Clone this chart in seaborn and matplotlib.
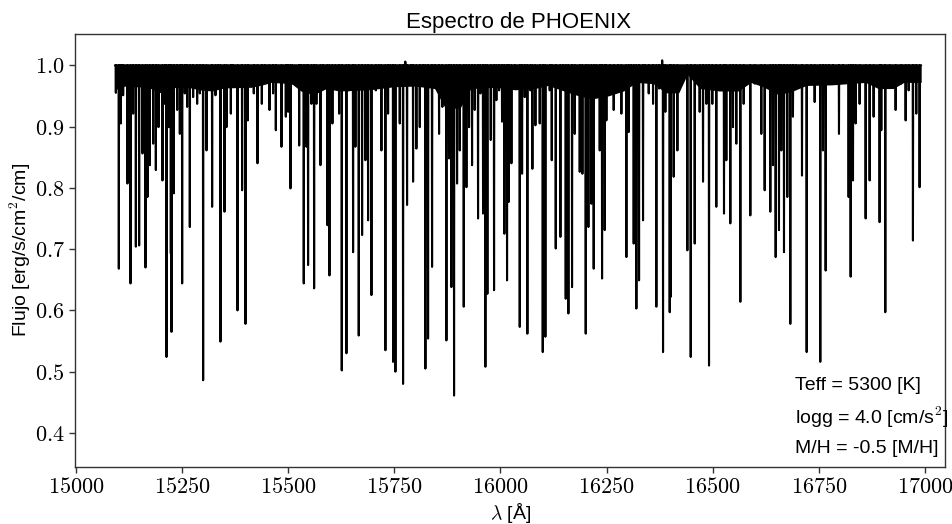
import numpy as np
import pandas as pd
import matplotlib
matplotlib.use("Agg")
import matplotlib.pyplot as plt
from matplotlib.ticker import FuncFormatter
import seaborn as sns

# ---------------- data ----------------
wl_start = 15092.0
wl_end = 16991.0

line_wl = [
    15094.2, 15101.2, 15106.0, 15111.4, 15121.6, 15128.7, 15135.0, 15141.3, 15149.1, 15157.0,
    15164.0, 15168.7, 15174.2, 15182.1, 15188.4, 15194.6, 15204.0, 15209.6, 15213.5, 15219.0,
    15223.7, 15225.3, 15230.7, 15238.6, 15244.9, 15250.4, 15256.6, 15262.1, 15268.4, 15276.3,
    15285.7, 15292.0, 15299.8, 15307.7, 15321.0, 15328.9, 15335.1, 15340.6, 15350.1, 15354.8,
    15365.0, 15370.5, 15380.7, 15391.6, 15399.5, 15405.0, 15419.1, 15427.8, 15438.0, 15445.0,
    15456.0, 15464.6, 15471.0, 15484.3, 15494.5, 15500.0, 15505.5, 15510.2, 15526.0, 15530.6,
    15536.8, 15543.1, 15547.0, 15554.9, 15561.2, 15566.6, 15576.1, 15582.3, 15592.5, 15597.3,
    15604.3, 15611.4, 15620.0, 15626.3, 15637.3, 15642.8, 15653.0, 15658.5, 15666.3, 15674.2,
    15682.0, 15688.3, 15696.2, 15706.4, 15713.4, 15719.7, 15729.1, 15735.4, 15740.9, 15747.2,
    15752.7, 15762.9, 15770.7, 15776.0, 15780.1, 15788.8, 15794.3, 15802.1, 15810.0, 15817.8,
    15823.3, 15829.6, 15839.0, 15846.1, 15855.5, 15863.3, 15872.8, 15879.0, 15884.5, 15890.8,
    15897.9, 15904.2, 15913.6, 15919.9, 15926.1, 15933.2, 15939.5, 15947.3, 15952.8, 15959.1,
    15964.6, 15969.3, 15977.2, 15985.0, 15990.5, 15996.8, 16003.8, 16009.3, 16015.6, 16019.6,
    16025.9, 16033.7, 16045.5, 16051.0, 16057.3, 16063.5, 16070.6, 16075.3, 16082.4, 16092.6,
    16099.7, 16105.9, 16116.1, 16120.9, 16130.3, 16141.3, 16147.5, 16153.8, 16160.1, 16168.7,
    16175.0, 16186.8, 16193.1, 16200.9, 16207.2, 16214.2, 16219.7, 16226.0, 16233.9, 16239.4,
    16245.6, 16249.6, 16257.4, 16266.8, 16277.0, 16284.9, 16296.7, 16302.2, 16308.4, 16313.9,
    16320.2, 16326.5, 16335.9, 16341.4, 16349.3, 16359.5, 16367.3, 16373.6, 16381.0, 16383.0,
    16388.5, 16398.7, 16401.1, 16408.1, 16416.8, 16440.3, 16448.2, 16457.6, 16469.3, 16477.2,
    16485.0, 16491.3, 16499.1, 16508.5, 16518.0, 16526.6, 16532.1, 16541.5, 16547.8, 16555.6,
    16565.1, 16572.9, 16588.6, 16598.8, 16614.5, 16622.4, 16635.7, 16642.0, 16648.3, 16656.1,
    16661.6, 16667.9, 16675.7, 16682.8, 16689.0, 16696.9, 16710.3, 16721.3, 16732.2, 16740.1,
    16753.4, 16759.7, 16766.0, 16773.8, 16783.2, 16797.4, 16806.8, 16820.1, 16824.9, 16830.4,
    16836.6, 16846.0, 16860.2, 16869.6, 16879.0, 16893.1, 16897.1, 16906.5, 16916.7, 16930.8,
    16944.2, 16954.4, 16961.5, 16971.6, 16979.5, 16987.3,
]
line_flux = [
    0.955, 0.668, 0.905, 0.951, 0.807, 0.644, 0.921, 0.704, 0.706, 0.856,
    0.670, 0.785, 0.837, 0.872, 0.829, 0.899, 0.812, 0.937, 0.524, 0.899,
    0.693, 0.565, 0.791, 0.927, 0.888, 0.644, 0.954, 0.932, 0.736, 0.948,
    0.937, 0.954, 0.486, 0.861, 0.769, 0.951, 0.970, 0.549, 0.761, 0.899,
    0.921, 0.981, 0.600, 0.796, 0.578, 0.910, 0.954, 0.840, 0.937, 0.981,
    0.927, 0.954, 0.894, 0.867, 0.916, 0.924, 0.799, 0.970, 0.869, 0.965,
    0.644, 0.867, 0.674, 0.937, 0.636, 0.937, 0.837, 0.965, 0.739, 0.657,
    0.905, 0.965, 0.921, 0.502, 0.530, 0.959, 0.695, 0.867, 0.559, 0.723,
    0.845, 0.747, 0.625, 0.959, 0.970, 0.861, 0.535, 0.921, 0.970, 0.516,
    0.500, 0.905, 0.480, 1.006, 0.772, 0.981, 0.810, 0.864, 0.899, 0.970,
    0.505, 0.554, 0.671, 0.984, 0.888, 0.932, 0.551, 0.848, 0.638, 0.461,
    0.807, 0.861, 0.606, 0.801, 0.899, 0.837, 0.927, 0.750, 0.954, 0.758,
    0.508, 0.627, 0.878, 0.633, 0.943, 0.959, 0.908, 0.725, 0.649, 0.777,
    0.840, 0.970, 0.573, 0.823, 0.948, 0.562, 0.959, 0.831, 0.902, 0.905,
    0.532, 0.557, 0.959, 0.845, 0.701, 0.720, 0.976, 0.619, 0.595, 0.638,
    0.888, 0.826, 0.823, 0.562, 0.736, 0.774, 0.668, 0.981, 0.861, 0.652,
    0.731, 0.910, 0.959, 0.927, 0.970, 0.921, 0.687, 0.891, 0.970, 0.709,
    0.603, 0.649, 0.747, 0.981, 0.954, 0.937, 0.606, 0.962, 1.008, 0.532,
    0.924, 0.597, 0.622, 0.818, 0.861, 0.698, 0.524, 0.709, 0.924, 0.810,
    0.937, 0.510, 0.937, 0.769, 0.981, 0.758, 0.845, 0.742, 0.899, 0.872,
    0.614, 0.937, 0.755, 0.970, 0.888, 0.796, 0.761, 0.837, 0.687, 0.731,
    0.861, 0.695, 0.785, 0.578, 0.916, 0.970, 0.820, 0.532, 0.970, 0.940,
    0.516, 0.861, 0.665, 0.992, 0.970, 0.888, 0.986, 0.785, 0.655, 0.812,
    0.905, 0.937, 0.750, 0.812, 0.916, 0.744, 0.894, 0.597, 0.965, 0.927,
    0.970, 0.910, 0.959, 0.714, 0.921, 0.801,
]

# lower edge of the dense forest of weak lines just under the continuum
band_wl = [15092, 15115, 15170, 15200, 15235, 15272, 15290, 15320, 15350,
           15413, 15440, 15460, 15508, 15530, 15560, 15590, 15620, 15692,
           15750, 15800, 15845, 15870, 15905, 15930, 15990, 16034, 16081,
           16112, 16175, 16215, 16254, 16290, 16320, 16360, 16390, 16420,
           16440, 16470, 16516, 16560, 16590, 16618, 16655, 16689, 16720, 16780,
           16860, 16890, 16925, 16950, 16991]
band_lo = [0.960, 0.966, 0.964, 0.955, 0.964, 0.963, 0.960, 0.958, 0.963,
           0.964, 0.968, 0.972, 0.970, 0.958, 0.952, 0.962, 0.958, 0.960,
           0.965, 0.966, 0.962, 0.930, 0.930, 0.962, 0.964, 0.960, 0.962,
           0.967, 0.952, 0.945, 0.950, 0.958, 0.972, 0.970, 0.955, 0.955,
           0.985, 0.962, 0.958, 0.958, 0.972, 0.965, 0.952, 0.958, 0.967, 0.968,
           0.972, 0.962, 0.962, 0.972, 0.972]
continuum = 1.0

xticks = [15000, 15250, 15500, 15750, 16000, 16250, 16500, 16750, 17000]
yticks = [0.4, 0.5, 0.6, 0.7, 0.8, 0.9, 1.0]
info_lines = ["Teff = 5300 [K]", "logg = 4.0 [cm/s$^2$]", "M/H = -0.5 [M/H]"]
info_y = [0.478, 0.426, 0.374]
info_x = 16693

# ---------------- build the spectrum from the line list ----------------
hw = 0.6
xs, ys = [wl_start], [continuum]
for w, f in zip(line_wl, line_flux):
    xs += [w - hw, w, w + hw]
    ys += [continuum, f, continuum]
xs.append(wl_end)
ys.append(continuum)
spec = pd.DataFrame({"wl": xs, "flux": ys})

# ---------------- figure ----------------
sns.set_style("ticks")
plt.rcParams["font.family"] = ["Liberation Sans", "DejaVu Sans"]
plt.rcParams["mathtext.fontset"] = "cm"
plt.rcParams["text.color"] = "black"
plt.rcParams["axes.labelcolor"] = "black"
plt.rcParams["xtick.color"] = "black"
plt.rcParams["ytick.color"] = "black"

fig = plt.figure(figsize=(9.53, 5.24), dpi=100)
ax = fig.add_axes([0.0787, 0.1094, 0.9133, 0.8257])

ax.fill_between(band_wl, band_lo, continuum, color="black", lw=0)
sns.lineplot(data=spec, x="wl", y="flux", ax=ax, color="black", lw=1.5,
             sort=False, estimator=None)

ax.set_xlim(14998, 17048)
ax.set_ylim(0.345, 1.051)
ax.set_xticks(xticks)
ax.set_yticks(yticks)
ax.xaxis.set_major_formatter(FuncFormatter(lambda v, p: f"${v:.0f}$"))
ax.yaxis.set_major_formatter(FuncFormatter(lambda v, p: f"${v:.1f}$"))
ax.tick_params(axis="both", labelsize=16, direction="out", length=4, width=1,
               color="0.2", labelcolor="black")
for s in ax.spines.values():
    s.set_visible(True)
    s.set_color("0.2")
    s.set_linewidth(1.0)

ax.set_xlabel(r"$\lambda$ [Å]", fontsize=14, labelpad=2)
ax.set_ylabel(r"Flujo [erg/s/cm$^2$/cm]", fontsize=14, labelpad=1)
ax.set_title("Espectro de PHOENIX", fontsize=16, pad=4, x=0.51)

for t, yy in zip(info_lines, info_y):
    ax.text(info_x, yy, t, fontsize=14, ha="left", va="center")

fig.savefig("out.png", dpi=100)
